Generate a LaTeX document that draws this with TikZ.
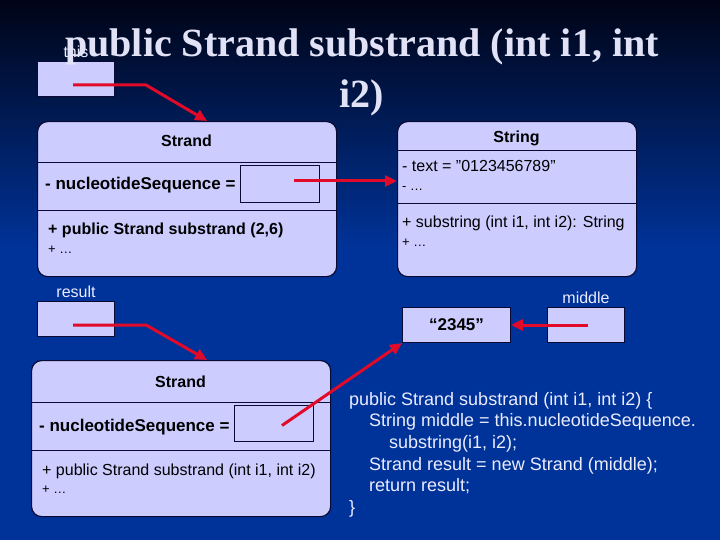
\documentclass[tikz,border=0pt]{standalone}
\usepackage{fontspec}
\setmainfont{Liberation Sans}
\newfontfamily\titelfont{Liberation Serif}
\usetikzlibrary{positioning,arrows.meta}

\definecolor{folie}{RGB}{0,51,153}
\definecolor{foliedunkel}{RGB}{0,4,22}
\definecolor{kasten}{RGB}{204,204,255}
\definecolor{rahmen}{RGB}{10,10,50}
\definecolor{zeigerrot}{RGB}{225,10,40}
\definecolor{hell}{RGB}{236,236,255}
\definecolor{titelhell}{RGB}{226,226,246}

\newcommand{\kleinschrift}{\fontsize{13}{15}\selectfont}
\newcommand{\mittelschrift}{\fontsize{16}{19}\selectfont}
\newcommand{\feldschrift}{\fontsize{17}{20}\selectfont\bfseries}

\tikzset{
  klasse/.style={draw=rahmen, fill=kasten, line width=1.2pt, rounded corners=10pt,
    inner sep=0pt, anchor=north west},
  feld/.style={draw=rahmen, fill=kasten, line width=1pt, inner sep=0pt, anchor=north west},
  zeiger/.style={draw=zeigerrot, line width=3pt, line join=round,
    -{Triangle[length=12pt,width=11pt]}},
  etikett/.style={text=hell, inner sep=0pt, font=\mittelschrift},
  eintrag/.style={anchor=base west, inner sep=0pt, font=\mittelschrift},
  kopf/.style={anchor=base, inner sep=0pt, font=\mittelschrift\bfseries}
}

\begin{document}
\begin{tikzpicture}[x=1pt, y=-1pt]
    \useasboundingbox (0,0) rectangle (720,540);
    % Hintergrund der Folie
    \fill[top color=foliedunkel, bottom color=folie] (0,0) rectangle (720,250);
    \fill[folie] (0,249.5) rectangle (720,540);

    % Variablen this und result
    \node[feld, minimum width=77, minimum height=35] (thisbox) at (37,61) {};
    \node[etikett, above=3pt of thisbox] (thislabel) {this};
    \node[feld, minimum width=77, minimum height=35] (resultbox) at (37,301) {};
    \node[etikett, above=3pt of resultbox] (resultlabel) {result};

    % Titel
    \node[anchor=north, inner sep=0pt, align=center, text=titelhell,
      font=\titelfont\bfseries\fontsize{40}{51}\selectfont] (titel) at (362,29)
      {public Strand substrand (int i1, int\\i2)};

    % Objekt Strand (oben)
    \node[klasse, minimum width=299, minimum height=155] (strand1) at (37,121) {};
    \draw[rahmen, line width=1pt] (strand1.west |- 0,163) -- (strand1.east |- 0,163)
                                  (strand1.west |- 0,211) -- (strand1.east |- 0,211);
    \node[kopf] (kopf1) at (186.5,147) {Strand};
    \node[eintrag, font=\feldschrift] (feld1) at (45,190) {- nucleotideSequence =};
    \node[feld, minimum width=79, minimum height=37] (ptr1) at (240,165) {};
    \node[eintrag, font=\mittelschrift\bfseries] (meth1) at (48,235) {+ public Strand substrand (2,6)};
    \node[eintrag, font=\kleinschrift] (rest1) at (48,254) {+ \dots};

    % Objekt String
    \node[klasse, minimum width=239, minimum height=155] (string) at (397,121) {};
    \draw[rahmen, line width=1pt] (string.west |- 0,151) -- (string.east |- 0,151)
                                  (string.west |- 0,204) -- (string.east |- 0,204);
    \node[kopf] (kopf2) at (516.5,143) {String};
    \node[eintrag] (text2) at (402,172) {- text = "0123456789"};
    \node[eintrag, font=\kleinschrift] (rest2) at (402,191) {- \dots};
    \node[eintrag] (meth2) at (402,227) {+ substring (int i1, int i2): String};
    \node[eintrag, font=\kleinschrift] (rest3) at (402,246) {+ \dots};

    % Teilstring und middle
    \node[feld, minimum width=108, minimum height=35, font=\fontsize{17}{20}\selectfont\bfseries]
      (wert) at (402,307) {“2345”};
    \node[feld, minimum width=77, minimum height=35] (middlebox) at (547,307) {};
    \node[etikett, above=3pt of middlebox] (middlelabel) {middle};

    % Objekt Strand (unten)
    \node[klasse, minimum width=299, minimum height=156] (strand2) at (31,360) {};
    \draw[rahmen, line width=1pt] (strand2.west |- 0,402) -- (strand2.east |- 0,402)
                                  (strand2.west |- 0,450) -- (strand2.east |- 0,450);
    \node[kopf] (kopf3) at (180.5,387) {Strand};
    \node[eintrag, font=\feldschrift] (feld3) at (39,431) {- nucleotideSequence =};
    \node[feld, minimum width=79, minimum height=36] (ptr2) at (234,405) {};
    \node[eintrag] (meth3) at (42,475) {+ public Strand substrand (int i1, int i2)};
    \node[eintrag, font=\kleinschrift] (rest4) at (42,493) {+ \dots};

    % Methodentext
    \node[anchor=north west, inner sep=0pt, align=left, text=hell,
      font=\fontsize{18}{21.6}\selectfont] (methode) at (349,392)
      {public Strand substrand (int i1, int i2) \{\\
       \hspace*{20pt}String middle = this.nucleotideSequence.\\
       \hspace*{40pt}substring(i1, i2);\\
       \hspace*{20pt}Strand result = new Strand (middle);\\
       \hspace*{20pt}return result;\\
       \}};

    % Referenzen
    \draw[zeiger] ([shift={(-3,6)}]thisbox.center) -- ++(73,0) -- ([xshift=20pt]strand1.north);
    \draw[zeiger] ([shift={(14,-3)}]ptr1.center) coordinate (p1) -- (p1 -| string.west);
    \draw[zeiger] ([shift={(-3,6)}]resultbox.center) -- ++(73,0) -- ([xshift=26pt]strand2.north);
    \draw[zeiger] ([shift={(8,2)}]ptr2.center) -- (wert.south west);
    \draw[zeiger] ([shift={(2,0)}]middlebox.center) -- (wert.east);
\end{tikzpicture}
\end{document}
